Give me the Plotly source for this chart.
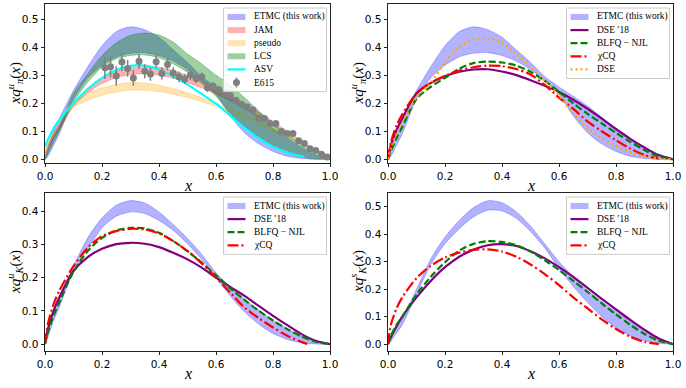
import plotly.graph_objects as go

# figure size in px
W, H = 686, 388

# common x grid the curves were read on
x_grid = [0, 0.01, 0.03, 0.05, 0.1, 0.15, 0.2, 0.25, 0.3, 0.35, 0.4, 0.45, 0.5,
          0.55, 0.6, 0.65, 0.7, 0.75, 0.8, 0.85, 0.9, 0.95, 1.0]
x_cq = x_grid[:-1]  # chiCQ curves stop before x=1
x_cq_k = x_grid[:-2] + [0.92]

# ---- pion (top panels)
etmc_pi_up = [0, 0.04, 0.1, 0.145, 0.245, 0.33, 0.405, 0.455, 0.472, 0.462, 0.435, 0.39, 0.345,
              0.295, 0.258, 0.225, 0.19, 0.15, 0.11, 0.075, 0.042, 0.015, 0]
etmc_pi_lo = [0, 0.01, 0.05, 0.09, 0.215, 0.29, 0.335, 0.365, 0.378, 0.38, 0.37, 0.35, 0.32,
              0.28, 0.232, 0.155, 0.095, 0.055, 0.028, 0.011, 0.003, 0.0, 0]
jam_up = [0.02, 0.05, 0.09, 0.12, 0.2, 0.252, 0.288, 0.313, 0.327, 0.332, 0.328, 0.316, 0.299,
          0.279, 0.256, 0.229, 0.2, 0.168, 0.135, 0.1, 0.066, 0.033, 0.008]
jam_lo = [0.0, 0.035, 0.075, 0.105, 0.188, 0.237, 0.27, 0.291, 0.302, 0.305, 0.3, 0.289, 0.273,
          0.255, 0.233, 0.208, 0.18, 0.15, 0.12, 0.088, 0.056, 0.026, 0.004]
pseudo_up = [0.03, 0.06, 0.1, 0.135, 0.2, 0.235, 0.255, 0.267, 0.274, 0.272, 0.265, 0.252, 0.237,
             0.22, 0.2, 0.18, 0.16, 0.135, 0.11, 0.085, 0.06, 0.035, 0.01]
pseudo_lo = [0.01, 0.045, 0.09, 0.125, 0.185, 0.21, 0.228, 0.24, 0.246, 0.246, 0.241, 0.232, 0.22,
             0.205, 0.188, 0.168, 0.148, 0.125, 0.1, 0.077, 0.052, 0.028, 0.005]
lcs_up = [0, 0.03, 0.08, 0.115, 0.235, 0.305, 0.37, 0.415, 0.442, 0.45, 0.443, 0.418, 0.375,
          0.34, 0.3, 0.265, 0.22, 0.172, 0.128, 0.087, 0.05, 0.018, 0]
lcs_lo = [0, 0.02, 0.06, 0.1, 0.205, 0.275, 0.328, 0.358, 0.37, 0.372, 0.362, 0.34, 0.31,
          0.27, 0.225, 0.165, 0.11, 0.075, 0.045, 0.022, 0.008, 0.001, 0]
x_asv = [0, 0.01, 0.03, 0.05, 0.1, 0.15, 0.2, 0.25, 0.3, 0.35, 0.4, 0.45, 0.5, 0.55, 0.6,
         0.65, 0.7, 0.75, 0.8, 0.85, 0.9, 0.91]
asv = [0.045, 0.07, 0.11, 0.14, 0.2, 0.25, 0.29, 0.318, 0.333, 0.334, 0.32, 0.296, 0.266, 0.233,
       0.198, 0.155, 0.112, 0.075, 0.045, 0.024, 0.011, 0.01]
e615_x = [0.21, 0.23, 0.25, 0.27, 0.29, 0.31, 0.33, 0.35, 0.37, 0.39, 0.41, 0.43, 0.45, 0.47,
          0.49, 0.51, 0.53, 0.55, 0.57, 0.59, 0.61, 0.63, 0.65, 0.67, 0.69, 0.71, 0.73, 0.75,
          0.77, 0.79, 0.81, 0.83, 0.85, 0.87, 0.89, 0.91, 0.93, 0.95, 0.97, 0.99]
e615_y = [0.326, 0.33, 0.297, 0.347, 0.324, 0.29, 0.349, 0.314, 0.304, 0.348, 0.306, 0.338, 0.308,
          0.294, 0.286, 0.3, 0.288, 0.293, 0.255, 0.26, 0.248, 0.237, 0.228, 0.21, 0.195, 0.186,
          0.176, 0.146, 0.145, 0.128, 0.128, 0.099, 0.092, 0.092, 0.066, 0.056, 0.038, 0.031,
          0.018, 0.008]
e615_err = [0.04, 0.038, 0.035, 0.032, 0.03, 0.028, 0.027, 0.025, 0.024, 0.023, 0.022, 0.021,
            0.02, 0.019, 0.018, 0.018, 0.017, 0.016, 0.015, 0.015, 0.014, 0.013, 0.013, 0.012,
            0.012, 0.011, 0.011, 0.01, 0.01, 0.01, 0.009, 0.009, 0.009, 0.008, 0.008, 0.008,
            0.007, 0.007, 0.006, 0.006]
dse18_pi = [0, 0.05, 0.105, 0.145, 0.235, 0.272, 0.296, 0.312, 0.32, 0.321, 0.313, 0.3, 0.282,
            0.262, 0.24, 0.212, 0.18, 0.145, 0.108, 0.073, 0.042, 0.015, 0]
blfq_pi = [0, 0.03, 0.075, 0.115, 0.215, 0.258, 0.29, 0.323, 0.343, 0.348, 0.345, 0.334, 0.312,
           0.28, 0.24, 0.2, 0.162, 0.128, 0.094, 0.062, 0.033, 0.01, 0]
cq_pi = [0, 0.06, 0.12, 0.16, 0.235, 0.272, 0.297, 0.316, 0.328, 0.334, 0.332, 0.322, 0.302,
         0.265, 0.22, 0.18, 0.135, 0.1, 0.068, 0.038, 0.015, 0.002]
dse_pi = [0, 0.04, 0.09, 0.13, 0.22, 0.272, 0.345, 0.4, 0.428, 0.43, 0.415, 0.376, 0.33,
          0.28, 0.228, 0.162, 0.11, 0.075, 0.048, 0.025, 0.01, 0.002, 0]

# ---- kaon u (bottom left)
etmc_ku_up = [0, 0.04, 0.1, 0.14, 0.235, 0.32, 0.38, 0.418, 0.432, 0.425, 0.398, 0.36, 0.318,
              0.27, 0.215, 0.172, 0.135, 0.102, 0.072, 0.046, 0.024, 0.007, 0]
etmc_ku_lo = [0, 0.02, 0.07, 0.11, 0.22, 0.286, 0.35, 0.385, 0.398, 0.393, 0.372, 0.342, 0.302,
              0.255, 0.2, 0.145, 0.097, 0.06, 0.032, 0.014, 0.004, 0.0, 0]
dse18_ku = [0, 0.045, 0.1, 0.14, 0.22, 0.262, 0.287, 0.301, 0.305, 0.302, 0.292, 0.275, 0.255,
            0.23, 0.2, 0.172, 0.145, 0.115, 0.085, 0.057, 0.03, 0.01, 0]
blfq_ku = [0, 0.035, 0.085, 0.125, 0.218, 0.28, 0.32, 0.342, 0.35, 0.348, 0.335, 0.31, 0.28,
           0.245, 0.207, 0.168, 0.133, 0.1, 0.071, 0.045, 0.023, 0.007, 0]
cq_ku = [0, 0.06, 0.12, 0.16, 0.235, 0.29, 0.325, 0.34, 0.347, 0.345, 0.333, 0.31, 0.28,
         0.243, 0.2, 0.155, 0.11, 0.078, 0.05, 0.025, 0.006, 0.0]

# ---- kaon s (bottom right)
etmc_ks_up = [0, 0.02, 0.06, 0.09, 0.2, 0.31, 0.39, 0.45, 0.497, 0.522, 0.515, 0.482, 0.43,
              0.365, 0.3, 0.245, 0.195, 0.155, 0.117, 0.083, 0.05, 0.02, 0]
etmc_ks_lo = [0, 0.01, 0.04, 0.07, 0.18, 0.29, 0.365, 0.42, 0.463, 0.487, 0.485, 0.458, 0.41,
              0.35, 0.275, 0.21, 0.152, 0.1, 0.06, 0.03, 0.012, 0.003, 0]
dse18_ks = [0, 0.025, 0.065, 0.1, 0.17, 0.23, 0.28, 0.318, 0.344, 0.36, 0.364, 0.357, 0.338,
            0.312, 0.28, 0.245, 0.205, 0.165, 0.126, 0.088, 0.052, 0.02, 0]
blfq_ks = [0, 0.03, 0.07, 0.1, 0.18, 0.245, 0.298, 0.34, 0.365, 0.375, 0.372, 0.36, 0.337,
           0.305, 0.27, 0.23, 0.19, 0.148, 0.108, 0.07, 0.037, 0.012, 0]
cq_ks = [0, 0.07, 0.13, 0.17, 0.24, 0.285, 0.315, 0.333, 0.343, 0.345, 0.337, 0.318, 0.29,
         0.255, 0.215, 0.17, 0.13, 0.09, 0.055, 0.027, 0.008, 0.0]

# colours
BLUE = 'rgba(0,0,255,0.3)'
RED_BAND = 'rgba(255,0,0,0.3)'
ORANGE_BAND = 'rgba(255,165,0,0.3)'
GREEN_BAND = 'rgba(0,128,0,0.38)'
PURPLE, GREEN, RED, ORANGE, CYAN, GREY = 'purple', 'green', 'red', 'orange', 'cyan', 'grey'
DASH = '7px,3px'
DASHDOT = '11px,3px,2px,3px'
DOT = '2px,3px'

# panel boxes in pixels: left, right, top, bottom, y range
panels = [
    (45, 330, 4.3, 162.5, [-0.0114, 0.5524]),
    (388, 673, 4.3, 162.5, [-0.0114, 0.5524]),
    (45, 330, 193.3, 350.7, [-0.020, 0.454]),
    (388, 673, 193.3, 350.7, [-0.024, 0.549]),
]


def fx(X):
    return X / W


def fy(Y):
    return 1 - Y / H


fig = go.Figure()


def band(i, x, up, lo, color):
    ax = '' if i == 0 else str(i + 1)
    fig.add_trace(go.Scatter(x=x, y=up, mode='lines', line=dict(color=color, width=0.8, shape='spline', smoothing=0.7),
                             xaxis='x' + ax, yaxis='y' + ax, showlegend=False, hoverinfo='skip'))
    fig.add_trace(go.Scatter(x=x, y=lo, mode='lines', fill='tonexty', fillcolor=color,
                             line=dict(color=color, width=0.8, shape='spline', smoothing=0.7),
                             xaxis='x' + ax, yaxis='y' + ax, showlegend=False, hoverinfo='skip'))


def curve(i, x, y, color, dash='solid', width=2.2):
    ax = '' if i == 0 else str(i + 1)
    fig.add_trace(go.Scatter(x=x, y=y, mode='lines', line=dict(color=color, width=width, dash=dash,
                                                               shape='spline', smoothing=0.8),
                             xaxis='x' + ax, yaxis='y' + ax, showlegend=False))


# top left
band(0, x_grid, etmc_pi_up, etmc_pi_lo, BLUE)
band(0, x_grid, jam_up, jam_lo, RED_BAND)
band(0, x_grid, pseudo_up, pseudo_lo, ORANGE_BAND)
band(0, x_grid, lcs_up, lcs_lo, GREEN_BAND)
curve(0, x_asv, asv, CYAN)
fig.add_trace(go.Scatter(x=e615_x, y=e615_y, mode='markers',
                         marker=dict(color=GREY, size=7),
                         error_y=dict(type='data', array=e615_err, color=GREY, thickness=1.5, width=0),
                         showlegend=False))

# top right
band(1, x_grid, etmc_pi_up, etmc_pi_lo, BLUE)
curve(1, x_grid, dse18_pi, PURPLE)
curve(1, x_grid, blfq_pi, GREEN, DASH)
curve(1, x_cq, cq_pi, RED, DASHDOT)
curve(1, x_grid, dse_pi, ORANGE, DOT)

# bottom left
band(2, x_grid, etmc_ku_up, etmc_ku_lo, BLUE)
curve(2, x_grid, dse18_ku, PURPLE)
curve(2, x_grid, blfq_ku, GREEN, DASH)
curve(2, x_cq_k, cq_ku, RED, DASHDOT)

# bottom right
band(3, x_grid, etmc_ks_up, etmc_ks_lo, BLUE)
curve(3, x_grid, dse18_ks, PURPLE)
curve(3, x_grid, blfq_ks, GREEN, DASH)
curve(3, x_cq, cq_ks, RED, DASHDOT)

tick_font = dict(family='DejaVu Sans', size=10.5, color='black')
y_titles = ['<i>xq</i><sup><i>u</i></sup><sub><i>π</i></sub>(<i>x</i>)',
            '<i>xq</i><sup><i>u</i></sup><sub><i>π</i></sub>(<i>x</i>)',
            '<i>xq</i><sup><i>u</i></sup><sub><i>K</i></sub>(<i>x</i>)',
            '<i>xq</i><sup><i>s</i></sup><sub><i>K</i></sub>(<i>x</i>)']
y_ticks = [[0, 0.1, 0.2, 0.3, 0.4, 0.5], [0, 0.1, 0.2, 0.3, 0.4, 0.5],
           [0, 0.1, 0.2, 0.3, 0.4], [0, 0.1, 0.2, 0.3, 0.4, 0.5]]

annotations = []
shapes = []
for i, (l, r, t, b, yr) in enumerate(panels):
    ax = '' if i == 0 else str(i + 1)
    axis_common = dict(showline=True, mirror=True, linecolor='#222', linewidth=1, ticks='outside',
                       ticklen=3.5, tickwidth=0.8, tickcolor='#222', showgrid=False, zeroline=False,
                       tickfont=tick_font, tickformat='.1f', automargin=False)
    fig.layout['xaxis' + ax] = dict(domain=[fx(l), fx(r)], range=[0, 1], anchor='y' + ax,
                                    tickvals=[0, 0.2, 0.4, 0.6, 0.8, 1.0], **axis_common)
    fig.layout['yaxis' + ax] = dict(domain=[fy(b), fy(t)], range=yr, anchor='x' + ax,
                                    tickvals=y_ticks[i], **axis_common)
    annotations.append(dict(x=fx((l + r) / 2), y=fy(b + 23), xref='paper', yref='paper', text='<i>x</i>',
                            showarrow=False, xanchor='center', yanchor='middle',
                            font=dict(family='Liberation Serif', size=16, color='black')))
    annotations.append(dict(x=fx(l - 30), y=fy((t + b) / 2), xref='paper', yref='paper', text=y_titles[i],
                            showarrow=False, textangle=-90, xanchor='center', yanchor='middle',
                            font=dict(family='Liberation Serif', size=15, color='black')))

# hand-drawn legends (matplotlib-like compact boxes)
legends = [
    [('ETMC (this work)', 'band', BLUE), ('JAM', 'band', RED_BAND), ('pseudo', 'band', ORANGE_BAND),
     ('LCS', 'band', GREEN_BAND), ('ASV', 'line', (CYAN, 'solid')), ('E615', 'err', GREY)],
    [('ETMC (this work)', 'band', BLUE), ('DSE ′18', 'line', (PURPLE, 'solid')),
     ('BLFQ − NJL', 'line', (GREEN, DASH)), ('χCQ', 'line', (RED, DASHDOT)), ('DSE', 'line', (ORANGE, DOT))],
    [('ETMC (this work)', 'band', BLUE), ('DSE ′18', 'line', (PURPLE, 'solid')),
     ('BLFQ − NJL', 'line', (GREEN, DASH)), ('χCQ', 'line', (RED, DASHDOT))],
    [('ETMC (this work)', 'band', BLUE), ('DSE ′18', 'line', (PURPLE, 'solid')),
     ('BLFQ − NJL', 'line', (GREEN, DASH)), ('χCQ', 'line', (RED, DASHDOT))],
]
ROW = 13.1
for i, (l, r, t, b, yr) in enumerate(panels):
    entries = legends[i]
    br = r - 3.5
    bl = br - 103
    bt = t + 3.7
    bb = bt + len(entries) * ROW + 5
    shapes.append(dict(type='rect', xref='paper', yref='paper', x0=fx(bl), x1=fx(br), y0=fy(bb), y1=fy(bt),
                       fillcolor='rgba(255,255,255,0.85)', line=dict(color='#cccccc', width=1), layer='above'))
    for k, (label, kind, style) in enumerate(entries):
        yc = bt + 9 + ROW * k
        if kind == 'band':
            shapes.append(dict(type='rect', xref='paper', yref='paper', x0=fx(bl + 4), x1=fx(bl + 22),
                               y0=fy(yc + 3), y1=fy(yc - 3), fillcolor=style, line=dict(width=0), layer='above'))
        elif kind == 'line':
            shapes.append(dict(type='line', xref='paper', yref='paper', x0=fx(bl + 4), x1=fx(bl + 22),
                               y0=fy(yc), y1=fy(yc), line=dict(color=style[0], width=2.2, dash=style[1]),
                               layer='above'))
        else:
            shapes.append(dict(type='line', xref='paper', yref='paper', x0=fx(bl + 13), x1=fx(bl + 13),
                               y0=fy(yc + 5), y1=fy(yc - 5), line=dict(color=style, width=1.5), layer='above'))
            shapes.append(dict(type='circle', xref='paper', yref='paper', x0=fx(bl + 9.5), x1=fx(bl + 16.5),
                               y0=fy(yc + 3.5), y1=fy(yc - 3.5), fillcolor=style, line=dict(width=0),
                               layer='above'))
        annotations.append(dict(x=fx(bl + 28), y=fy(yc), xref='paper', yref='paper', text=label,
                                showarrow=False, xanchor='left', yanchor='middle',
                                font=dict(family='Liberation Serif', size=9.5, color='black')))

fig.update_layout(width=W, height=H, margin=dict(l=0, r=0, t=0, b=0, pad=0), showlegend=False,
                  autosize=False, plot_bgcolor='white', paper_bgcolor='white',
                  annotations=annotations, shapes=shapes)

# page body margin would push the figure off its 686x388 frame
fig.write_html("out.html", config={'displayModeBar': False},
               post_script="document.body.style.margin='0';document.body.style.overflow='hidden';")
